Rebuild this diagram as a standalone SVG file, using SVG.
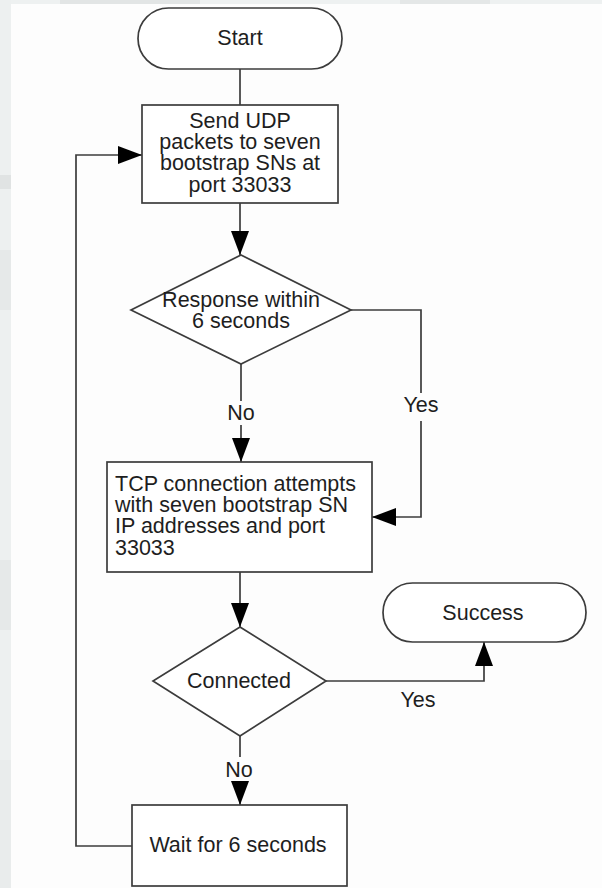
<svg xmlns="http://www.w3.org/2000/svg" width="602" height="888" viewBox="0 0 602 888">
  <style>
    .shape { fill: #ffffff; stroke: #3c3c3c; stroke-width: 1.7; }
    .conn { fill: none; stroke: #3c3c3c; stroke-width: 1.7; }
    .txt { font-family: "Liberation Sans", Arial, Helvetica, sans-serif; font-size: 21.5px; fill: #1e1e1e; }
    .mid { text-anchor: middle; }
  </style>
  <defs>
    <marker id="arrow" markerUnits="userSpaceOnUse" viewBox="0 0 24 18" refX="24" refY="9" markerWidth="24" markerHeight="18" orient="auto">
      <path d="M0,0 L24,9 L0,18 z" fill="#000000"/>
    </marker>
  </defs>

  <!-- page background with a pale frame on the top and left -->
  <rect x="0" y="0" width="602" height="888" fill="#fdfdfd"/>
  <rect x="0" y="0" width="602" height="4" fill="#eef1f1"/>
  <rect x="60" y="0" width="140" height="4" fill="#e2e5e5"/>
  <rect x="400" y="0" width="90" height="4" fill="#e4e7e7"/>
  <rect x="0" y="0" width="11" height="888" fill="#edf0f0"/>
  <rect x="0" y="175" width="11" height="14" fill="#e0e3e3"/>
  <rect x="0" y="250" width="11" height="60" fill="#e6e9e9"/>
  <rect x="0" y="560" width="11" height="70" fill="#e6e9e9"/>
  <rect x="0" y="760" width="11" height="128" fill="#e9ecec"/>

  <!-- connectors -->
  <g id="connectors">
    <line class="conn" x1="240" y1="69" x2="240" y2="105"/>
    <line class="conn" x1="240" y1="203" x2="240" y2="255" marker-end="url(#arrow)"/>
    <!-- response check: No -->
    <line class="conn" x1="241" y1="364" x2="241" y2="401"/>
    <line class="conn" x1="241" y1="425" x2="241" y2="462" marker-end="url(#arrow)"/>
    <!-- response check: Yes -->
    <polyline class="conn" points="351,310 421,310 421,393"/>
    <polyline class="conn" points="421,421 421,517 372,517" marker-end="url(#arrow)"/>
    <line class="conn" x1="240" y1="572" x2="240" y2="627" marker-end="url(#arrow)"/>
    <!-- connected: Yes -->
    <polyline class="conn" points="326,681 484,681 484,642" marker-end="url(#arrow)"/>
    <!-- connected: No -->
    <line class="conn" x1="240" y1="736" x2="240" y2="757"/>
    <line class="conn" x1="240" y1="781" x2="240" y2="805" marker-end="url(#arrow)"/>
    <!-- retry loop -->
    <polyline class="conn" points="132,846 76,846 76,155 142,155" marker-end="url(#arrow)"/>

    <text class="txt mid" x="241" y="420">No</text>
    <text class="txt mid" x="421" y="412">Yes</text>
    <text class="txt mid" x="418" y="707">Yes</text>
    <text class="txt mid" x="239" y="777">No</text>
  </g>

  <g id="start">
    <rect class="shape" x="138" y="8" width="204" height="61" rx="30.5"/>
    <text class="txt mid" x="240" y="45">Start</text>
  </g>

  <g id="send-udp">
    <rect class="shape" x="142" y="105" width="196" height="98"/>
    <text class="txt mid" x="240" y="128">Send UDP</text>
    <text class="txt mid" x="240" y="149">packets to seven</text>
    <text class="txt mid" x="240" y="170">bootstrap SNs at</text>
    <text class="txt mid" x="240" y="192">port 33033</text>
  </g>

  <g id="response-check">
    <polygon class="shape" points="241,255 351,310 241,364 131,310"/>
    <text class="txt mid" x="241" y="307">Response within</text>
    <text class="txt mid" x="241" y="328">6 seconds</text>
  </g>

  <g id="tcp-connect">
    <rect class="shape" x="107" y="462" width="265" height="110"/>
    <text class="txt" x="115" y="491">TCP connection attempts</text>
    <text class="txt" x="115" y="512">with seven bootstrap SN</text>
    <text class="txt" x="115" y="533">IP addresses and port</text>
    <text class="txt" x="115" y="555">33033</text>
  </g>

  <g id="connected-check">
    <polygon class="shape" points="240,627 326,681 240,736 153,681"/>
    <text class="txt mid" x="239" y="688">Connected</text>
  </g>

  <g id="success">
    <rect class="shape" x="383" y="583" width="203" height="59" rx="29.5"/>
    <text class="txt mid" x="483" y="620">Success</text>
  </g>

  <g id="wait">
    <rect class="shape" x="132" y="805" width="215" height="81"/>
    <text class="txt mid" x="238" y="852">Wait for 6 seconds</text>
  </g>
</svg>
